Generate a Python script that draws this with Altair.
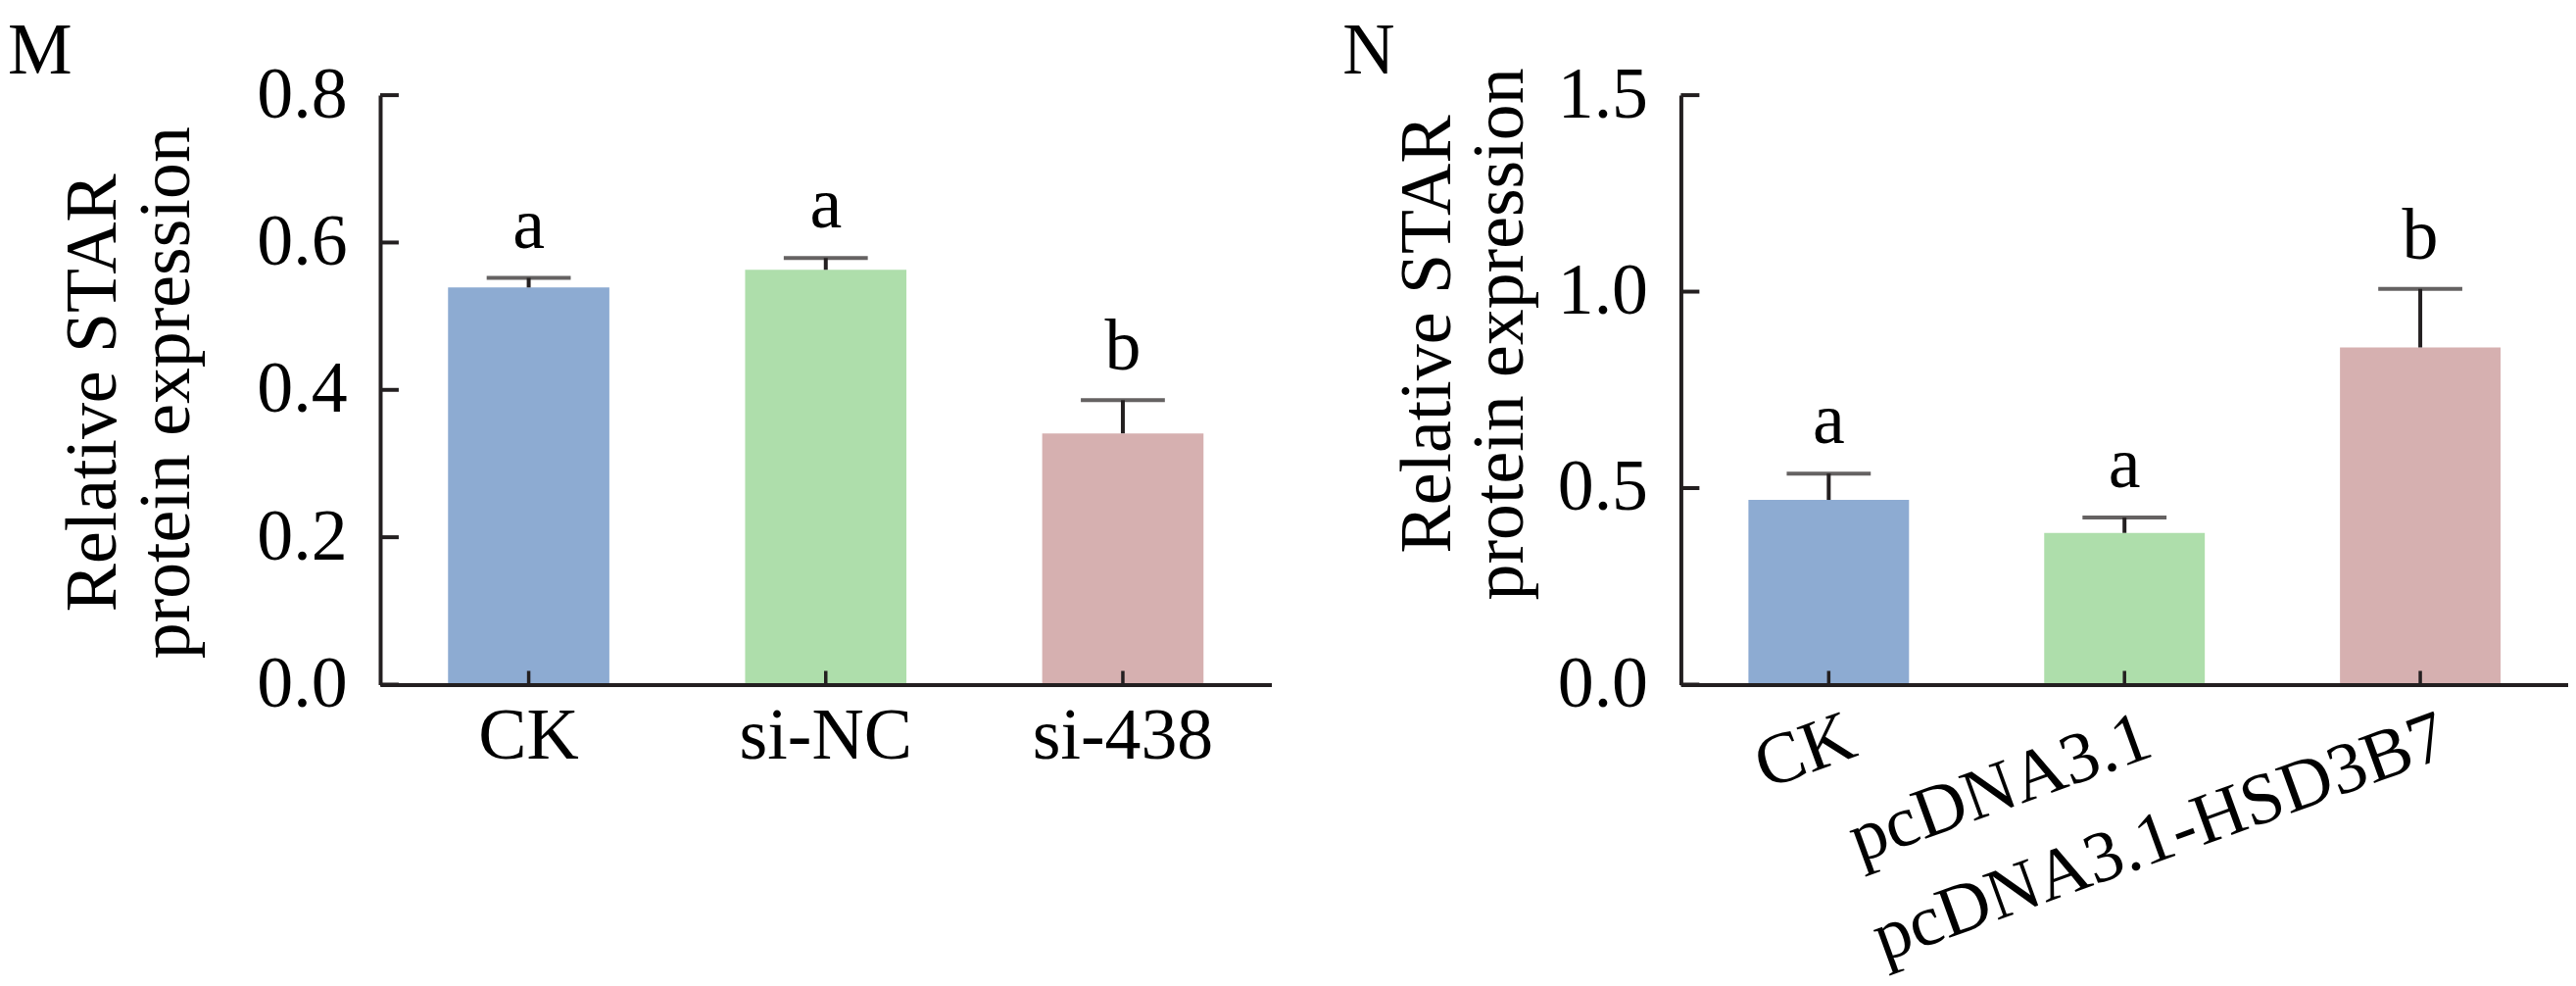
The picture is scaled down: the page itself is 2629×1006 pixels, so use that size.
import altair as alt
import pandas as pd

FONT = "Liberation Serif"
INK = "#231f20"
FS = 74

# ---- data ----
colors = ["#8DABD2", "#AEDEAB", "#D6B0B0"]

m_groups = ["CK", "si-NC", "si-438"]
m_means = [0.539, 0.563, 0.341]
m_sd = [0.013, 0.016, 0.045]
m_letters = ["a", "a", "b"]
m_ticks = [0.0, 0.2, 0.4, 0.6, 0.8]

n_groups = ["CK", "pcDNA3.1", "pcDNA3.1-HSD3B7"]
n_means = [0.470, 0.386, 0.858]
n_sd = [0.067, 0.039, 0.149]
n_letters = ["a", "a", "b"]
n_ticks = [0.0, 0.5, 1.0, 1.5]

ytitle = ["Relative STAR", "protein expression"]
H = 603


def panel(tag, groups, means, sds, letters, ticks, ymax, width,
          label_angle, label_align, label_offset, title_x, title_y, tag_dx):
    df = pd.DataFrame({"group": groups, "mean": means, "sd": sds,
                       "letter": letters, "color": colors})
    df["upper"] = df["mean"] + df["sd"]
    tdf = pd.DataFrame({"tick": ticks})

    xscale = alt.Scale(domain=groups, paddingInner=0.457, paddingOuter=0.2285)
    yscale = alt.Scale(domain=[0, ymax], nice=False, zero=True)

    xaxis = alt.Axis(title=None, labelAngle=label_angle, labelAlign=label_align,
                     labelBaseline="top", labelFont=FONT, labelFontSize=FS,
                     labelColor="black", labelPadding=17, labelOffset=label_offset,
                     labelLimit=2000, labelOverlap=False, ticks=False, tickSize=0,
                     domainColor=INK, domainWidth=4, grid=False, zindex=1)
    yaxis = alt.Axis(values=ticks, format=".1f", title=ytitle, titleFont=FONT,
                     titleFontSize=FS, titleFontWeight="normal", titleLineHeight=75,
                     titleColor="black", titleAngle=270, titleX=title_x, titleY=title_y,
                     titleBaseline="alphabetic", titleAlign="center", titleLimit=3000,
                     labelFont=FONT, labelFontSize=FS, labelColor="black",
                     labelPadding=34, ticks=False, tickSize=0, domainColor=INK,
                     domainWidth=4, grid=False, zindex=1)

    def X():
        return alt.X("group:N", sort=groups, scale=xscale, axis=xaxis)

    def Y(field):
        return alt.Y(field, type="quantitative", scale=yscale, axis=yaxis)

    base = alt.Chart(df)
    bars = base.mark_bar().encode(
        x=X(), y=Y("mean"), color=alt.Color("color:N", scale=None))
    err = base.mark_rule(color=INK, strokeWidth=4).encode(
        x=X(), y=Y("mean"), y2="upper:Q")
    cap = base.mark_tick(color=INK, thickness=4, size=86, orient="horizontal").encode(
        x=X(), y=Y("upper"))
    txt = base.mark_text(font=FONT, fontSize=FS, baseline="alphabetic", dy=-31,
                         color="black").encode(
        x=X(), y=Y("upper"), text="letter:N")
    yt = alt.Chart(tdf).mark_rule(color=INK, strokeWidth=4).encode(
        y=Y("tick"), x=alt.value(0), x2=alt.value(19))
    xt = base.mark_rule(color=INK, strokeWidth=3.5).encode(
        x=X(), y=alt.value(H), y2=alt.value(H - 14))

    return alt.layer(bars, err, cap, txt, yt, xt).properties(
        width=width, height=H,
        title=alt.TitleParams(tag, anchor="start", frame="group", font=FONT,
                              fontSize=FS, fontWeight="normal", color="black",
                              baseline="alphabetic", offset=0, dx=tag_dx, dy=89),
    )


left = panel("M", m_groups, m_means, m_sd, m_letters, m_ticks, 0.8, 912,
             0, "center", 0, -271, 304, -381)
right = panel("N", n_groups, n_means, n_sd, n_letters, n_ticks, 1.5, 908,
              340, "right", 12, -237, 244, -346)

chart = alt.hconcat(left, right, spacing=73).properties(
    padding={"top": 7, "left": 0, "right": 0, "bottom": 0}, background="white"
).configure_view(stroke=None)

chart.save("out.html", embed_options={"renderer": "svg", "actions": False})
